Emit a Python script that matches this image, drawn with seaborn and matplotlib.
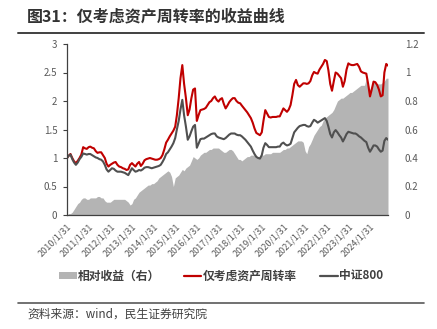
import numpy as np
import pandas as pd
import matplotlib
matplotlib.use("Agg")
import matplotlib.pyplot as plt
import matplotlib.dates as mdates
from matplotlib.lines import Line2D
from matplotlib.patches import Patch
import seaborn as sns

# ---------------- data (monthly, 2010-01 .. 2024-11) ----------------
start_date = "2010-01-31"
n_months = 179

turnover = [  # 仅考虑资产周转率 (left axis)
    1.00, 1.04, 1.07, 1.00, 0.94, 0.91, 0.95, 1.00, 1.06, 1.19, 1.17, 1.16,
    1.19, 1.20, 1.18, 1.17, 1.12, 1.09, 1.10, 1.10, 1.05, 1.00, 0.90, 0.85,
    0.88, 0.90, 0.92, 0.93, 0.88, 0.85, 0.84, 0.82, 0.81, 0.79, 0.80, 0.88,
    0.91, 0.88, 0.85, 0.90, 0.93, 0.86, 0.90, 0.96, 0.98, 0.99, 1.00, 0.99,
    0.98, 0.97, 0.97, 0.98, 1.00, 1.05, 1.15, 1.27, 1.32, 1.38, 1.43, 1.48,
    1.55, 1.75, 2.05, 2.40, 2.63, 2.30, 2.05, 1.75, 1.85, 2.05, 2.20, 2.22,
    1.65, 1.75, 1.84, 1.85, 1.86, 1.88, 1.93, 1.98, 2.00, 2.05, 2.08, 2.02,
    1.99, 2.03, 2.05, 1.95, 1.87, 1.92, 1.98, 2.02, 2.05, 2.05, 2.00, 1.97,
    1.96, 1.92, 1.88, 1.84, 1.80, 1.75, 1.70, 1.62, 1.52, 1.44, 1.42, 1.40,
    1.45, 1.65, 1.84, 1.78, 1.72, 1.71, 1.72, 1.72, 1.72, 1.73, 1.73, 1.80,
    1.87, 1.84, 1.81, 1.85, 1.93, 2.10, 2.30, 2.37, 2.28, 2.25, 2.28, 2.31,
    2.31, 2.30, 2.31, 2.35, 2.45, 2.51, 2.49, 2.48, 2.55, 2.60, 2.65, 2.72,
    2.70, 2.54, 2.30, 2.18, 2.35, 2.50, 2.48, 2.44, 2.40, 2.25, 2.35, 2.55,
    2.66, 2.64, 2.63, 2.63, 2.64, 2.65, 2.60, 2.52, 2.50, 2.49, 2.48, 2.30,
    2.08, 2.20, 2.34, 2.33, 2.28, 2.20, 2.08, 2.10, 2.50, 2.65, 2.62,
]

csi800 = [  # 中证800 (left axis)
    1.00, 1.04, 1.06, 0.98, 0.92, 0.88, 0.92, 0.98, 1.02, 1.08, 1.07, 1.06,
    1.07, 1.07, 1.05, 1.03, 1.01, 1.00, 0.98, 0.97, 0.94, 0.88, 0.80, 0.76,
    0.79, 0.82, 0.81, 0.78, 0.76, 0.76, 0.76, 0.75, 0.74, 0.72, 0.70, 0.76,
    0.82, 0.79, 0.76, 0.77, 0.79, 0.78, 0.80, 0.83, 0.84, 0.84, 0.83, 0.82,
    0.83, 0.84, 0.85, 0.86, 0.88, 0.93, 0.99, 1.07, 1.10, 1.15, 1.20, 1.26,
    1.35, 1.50, 1.65, 1.85, 2.02, 1.75, 1.55, 1.32, 1.38, 1.47, 1.55, 1.58,
    1.18, 1.25, 1.33, 1.34, 1.34, 1.36, 1.38, 1.40, 1.42, 1.43, 1.43, 1.38,
    1.36, 1.35, 1.34, 1.33, 1.35, 1.38, 1.41, 1.43, 1.43, 1.43, 1.41, 1.40,
    1.40, 1.38, 1.35, 1.32, 1.28, 1.24, 1.20, 1.13, 1.07, 1.02, 1.00, 0.99,
    1.05, 1.18, 1.26, 1.23, 1.19, 1.19, 1.19, 1.19, 1.19, 1.20, 1.20, 1.25,
    1.27, 1.24, 1.22, 1.23, 1.25, 1.35, 1.45, 1.49, 1.53, 1.56, 1.57, 1.58,
    1.58, 1.56, 1.55, 1.56, 1.62, 1.67, 1.65, 1.62, 1.64, 1.66, 1.68, 1.70,
    1.65, 1.55, 1.42, 1.36, 1.45, 1.49, 1.45, 1.40, 1.36, 1.29, 1.35, 1.42,
    1.46, 1.45, 1.44, 1.43, 1.43, 1.41, 1.38, 1.36, 1.33, 1.30, 1.28, 1.18,
    1.11, 1.16, 1.22, 1.22, 1.20, 1.15, 1.11, 1.13, 1.30, 1.35, 1.32,
]

relative = [  # 相对收益（右） (right axis)
    0.00, 0.01, 0.01, 0.02, 0.04, 0.06, 0.08, 0.09, 0.11, 0.12, 0.12, 0.11,
    0.11, 0.12, 0.12, 0.12, 0.12, 0.13, 0.13, 0.12, 0.12, 0.10, 0.09, 0.09,
    0.09, 0.10, 0.11, 0.11, 0.11, 0.11, 0.11, 0.11, 0.11, 0.10, 0.09, 0.07,
    0.08, 0.11, 0.12, 0.14, 0.16, 0.17, 0.18, 0.19, 0.20, 0.21, 0.21, 0.22,
    0.22, 0.23, 0.24, 0.26, 0.27, 0.28, 0.29, 0.30, 0.31, 0.30, 0.27, 0.20,
    0.26, 0.27, 0.28, 0.30, 0.32, 0.31, 0.33, 0.34, 0.35, 0.38, 0.41, 0.40,
    0.39, 0.40, 0.42, 0.43, 0.44, 0.44, 0.45, 0.46, 0.46, 0.47, 0.47, 0.47,
    0.47, 0.46, 0.45, 0.44, 0.44, 0.45, 0.46, 0.46, 0.45, 0.43, 0.41, 0.39,
    0.39, 0.38, 0.39, 0.40, 0.41, 0.41, 0.42, 0.42, 0.42, 0.41, 0.41, 0.41,
    0.42, 0.42, 0.43, 0.43, 0.43, 0.43, 0.44, 0.44, 0.44, 0.44, 0.44, 0.45,
    0.46, 0.46, 0.47, 0.47, 0.48, 0.49, 0.50, 0.51, 0.52, 0.52, 0.52, 0.51,
    0.45, 0.43, 0.48, 0.50, 0.53, 0.56, 0.58, 0.60, 0.62, 0.63, 0.66, 0.68,
    0.69, 0.70, 0.71, 0.72, 0.74, 0.77, 0.80, 0.81, 0.82, 0.82, 0.83, 0.84,
    0.85, 0.86, 0.86, 0.87, 0.88, 0.89, 0.90, 0.91, 0.91, 0.91, 0.96, 0.92,
    0.88, 0.90, 0.93, 0.93, 0.92, 0.92, 0.92, 0.93, 0.94, 0.96, 0.96,
]

tick_years = list(range(2010, 2025))
left_ticks = [0, 0.5, 1, 1.5, 2, 2.5, 3]
left_labels = ["0", "0.5", "1", "1.5", "2", "2.5", "3"]
right_ticks = [0, 0.2, 0.4, 0.6, 0.8, 1, 1.2]
right_labels = ["0", "0.2", "0.4", "0.6", "0.8", "1", "1.2"]

title = "图31：仅考虑资产周转率的收益曲线"
source = "资料来源：wind，民生证券研究院"
name_rel = "相对收益（右）"
name_turn = "仅考虑资产周转率"
name_csi = "中证800"

# ---------------- styling ----------------
sns.set_theme(style="white")
plt.rcParams["font.family"] = ["Noto Sans CJK SC", "DejaVu Sans"]
plt.rcParams["axes.unicode_minus"] = False

RED = "#C00000"
DARK = "#505050"
AREA = "#B4B4B4"
TXT = "#595959"

dates = pd.date_range(start_date, periods=n_months, freq="ME")
df = pd.DataFrame({"date": dates, "turn": turnover, "csi": csi800, "rel": relative})

fig = plt.figure(figsize=(4.37, 3.29), dpi=100)
ax = fig.add_axes([67 / 437, 1 - 215 / 329, (388 - 67) / 437, (215 - 44) / 329])
ax2 = ax.twinx()

ax2.fill_between(df["date"], 0, df["rel"], color=AREA, linewidth=0)
ax.set_zorder(ax2.get_zorder() + 1)
ax.patch.set_visible(False)

sns.lineplot(data=df, x="date", y="turn", ax=ax, color=RED, linewidth=1.5)
sns.lineplot(data=df, x="date", y="csi", ax=ax, color=DARK, linewidth=1.5)

ax.set_xlim(dates[0], dates[-1])
ax.set_ylim(0, 3)
ax2.set_ylim(0, 1.2)
ax.set_xlabel("")
ax.set_ylabel("")
ax2.set_ylabel("")

ax.set_yticks(left_ticks)
ax.set_yticklabels(left_labels)
ax2.set_yticks(right_ticks)
ax2.set_yticklabels(right_labels)

xt = [pd.Timestamp(f"{y}-01-31") for y in tick_years]
ax.set_xticks(xt)
ax.set_xticklabels([f"{y}/1/31" for y in tick_years], rotation=45, ha="right",
                   rotation_mode="anchor")

for a in (ax, ax2):
    for s in a.spines.values():
        s.set_visible(False)
ax.spines["left"].set_visible(True)
ax.spines["bottom"].set_visible(True)
ax.spines["left"].set_color("#404040")
ax.spines["bottom"].set_color("#404040")
ax.spines["left"].set_linewidth(0.9)
ax.spines["bottom"].set_linewidth(0.9)

ax.tick_params(axis="y", direction="out", length=3, width=0.8, color="#404040",
               labelsize=7, labelcolor=TXT, pad=4)
ax.tick_params(axis="x", direction="out", length=3, width=0.8, color="#404040",
               labelsize=6.5, labelcolor=TXT, pad=2)
ax2.tick_params(axis="y", length=0, labelsize=7, labelcolor=TXT, pad=12)
ax.grid(False)
ax2.grid(False)

# title and separators
fig.text(27 / 437, 1 - 16 / 329, title, fontsize=11.5, fontweight="bold",
         color="#333333", va="center", ha="left")
fig.add_artist(Line2D([18 / 437, 424 / 437], [1 - 33 / 329] * 2, color="#404040",
                      linewidth=1.4, transform=fig.transFigure))
fig.add_artist(Line2D([18 / 437, 424 / 437], [1 - 303 / 329] * 2, color="#595959",
                      linewidth=1.2, transform=fig.transFigure))
fig.text(27 / 437, 1 - 314 / 329, source, fontsize=8.5, color="#404040",
         va="center", ha="left")

handles = [
    Patch(facecolor=AREA, edgecolor="none", label=name_rel),
    Line2D([], [], color=RED, linewidth=1.6, label=name_turn),
    Line2D([], [], color=DARK, linewidth=1.6, label=name_csi),
]
fig.legend(handles=handles, loc="center", bbox_to_anchor=(221 / 437, 1 - 276 / 329),
           ncol=3, frameon=False, handlelength=1.5, handleheight=0.5, handletextpad=0.1,
           columnspacing=2.0, prop={"weight": "bold", "size": 8.5},
           labelcolor="#404040")

fig.savefig("out.png", dpi=100)
